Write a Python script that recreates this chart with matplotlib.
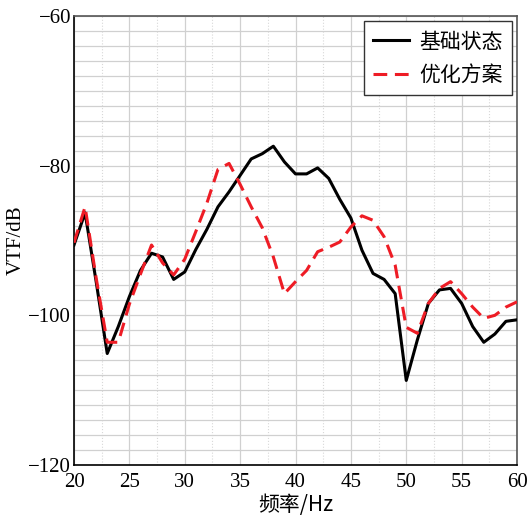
import matplotlib
matplotlib.use("Agg")
import matplotlib.pyplot as plt
import numpy as np

plt.rcParams['font.family'] = ['Liberation Serif', 'Noto Sans CJK SC']
plt.rcParams['axes.unicode_minus'] = True

freq = list(range(20, 61))

base = [-90.6, -86.3, -95.5, -105.1, -101.5, -97.5, -94.0, -91.7, -92.2, -95.2,
        -94.2, -91.2, -88.5, -85.5, -83.5, -81.3, -79.1, -78.4, -77.4, -79.5,
        -81.1, -81.1, -80.3, -81.7, -84.5, -87.0, -91.3, -94.4, -95.2, -97.1,
        -108.7, -103.3, -98.4, -96.6, -96.4, -98.4, -101.5, -103.6, -102.5, -100.8,
        -100.6]

optim = [-90.3, -85.5, -95.0, -103.6, -103.6, -98.5, -94.5, -90.6, -93.0, -94.6,
         -92.5, -88.8, -85.0, -80.5, -79.7, -82.5, -85.5, -88.3, -92.2, -97.1,
         -95.5, -94.0, -91.5, -90.9, -90.2, -88.2, -86.7, -87.3, -89.5, -93.3,
         -101.6, -102.4, -98.4, -96.4, -95.5, -97.1, -98.9, -100.4, -100.0, -98.9,
         -98.2]

labels = ['基础状态', '优化方案']

fig = plt.figure(figsize=(5.3, 5.22), dpi=100)
ax = fig.add_axes([74 / 530, 57 / 522, 443 / 530, 449 / 522])

ax.plot(freq, base, color='black', lw=2.2, label=labels[0], zorder=3)
ax.plot(freq, optim, color='#ee1c25', lw=2.2, ls=(0, (4.5, 2.5)), label=labels[1], zorder=4)

ax.set_xlim(20, 60)
ax.set_ylim(-120, -60)
ax.set_xticks(np.arange(20, 61, 5))
ax.set_xticks(np.arange(22.5, 60, 5), minor=True)
ax.set_yticks([-120, -100, -80, -60])
ax.set_yticks(np.arange(-120, -59, 2), minor=True)

ax.grid(which='major', axis='x', color='#d0d0d0', lw=0.9)
ax.grid(which='minor', axis='x', color='#d8d8d8', lw=0.8, ls=':')
ax.grid(which='minor', axis='y', color='#d0d0d0', lw=0.9)
ax.grid(which='major', axis='y', color='#d0d0d0', lw=0.9)
ax.set_axisbelow(True)

ax.tick_params(which='both', length=0, labelsize=15)
ax.tick_params(axis='x', pad=6)
ax.tick_params(axis='y', pad=2)

for s in ['left', 'bottom']:
    ax.spines[s].set_color('black')
    ax.spines[s].set_linewidth(1.2)
for s in ['top', 'right']:
    ax.spines[s].set_color('#555555')
    ax.spines[s].set_linewidth(1.2)

ax.set_xlabel('频率/Hz', fontsize=15, labelpad=1, family=['Noto Sans CJK SC', 'Liberation Serif'])
ax.set_ylabel('VTF/dB', fontsize=15, labelpad=2)

leg = ax.legend(loc='upper right', frameon=True, fancybox=False,
                edgecolor='#333333', framealpha=1, handlelength=1.7,
                borderaxespad=0.25, labelspacing=0.55, handletextpad=0.5,
                borderpad=0.45, prop={'family': ['Noto Sans CJK SC'], 'size': 15})
leg.get_frame().set_linewidth(1.0)

fig.savefig('out.png', dpi=100)
